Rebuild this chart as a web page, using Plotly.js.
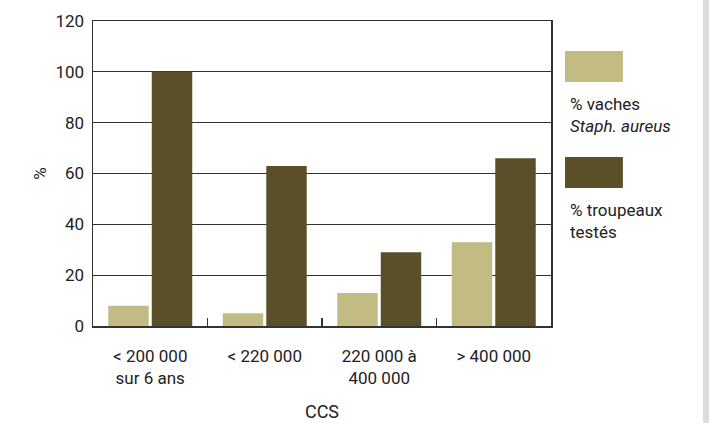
<!DOCTYPE html>
<html>
<head>
<meta charset="utf-8">
<script src="https://cdn.plot.ly/plotly-3.0.1.min.js"></script>
<style>
  html, body { margin: 0; padding: 0; background: #ffffff; }
  #chart { width: 709px; height: 423px; }
</style>
</head>
<body>
<div id="chart"></div>
<script>
// CCS classes on the x axis
const categories = ['< 200 000<br>sur 6 ans', '< 220 000', '220 000 à<br>400 000', '> 400 000'];
// % of cows with Staph. aureus
const vaches = [8, 5, 13, 33];
// % of herds tested
const troupeaux = [100, 63, 29, 66];
const yTicks = [0, 20, 40, 60, 80, 100, 120];

const FONT = '"Roboto", sans-serif';
const LIGHT = '#c2bb84';
const DARK = '#5a4f28';
const INK = '#222222';

const traces = [
  { type: 'bar', x: categories, y: vaches, name: '% vaches', marker: { color: LIGHT }, hoverinfo: 'x+y' },
  { type: 'bar', x: categories, y: troupeaux, name: '% troupeaux testés', marker: { color: DARK }, hoverinfo: 'x+y' }
];

const layout = {
  width: 709, height: 423,
  margin: { l: 93, r: 158, t: 21, b: 97 },
  paper_bgcolor: '#ffffff', plot_bgcolor: '#ffffff',
  showlegend: false,
  barmode: 'group', bargap: 0.24, bargroupgap: 0.07,
  font: { family: FONT, size: 17, color: INK },
  xaxis: {
    type: 'category',
    showline: true, linecolor: '#333', linewidth: 1.5, mirror: true,
    showgrid: false, zeroline: false,
    ticks: 'inside', tickson: 'boundaries', ticklen: 8, tickcolor: '#333', tickwidth: 1.5,
    ticklabelstandoff: 14,
    tickfont: { family: FONT, size: 17, color: INK },
    title: { text: 'CCS', font: { family: FONT, size: 18, color: INK }, standoff: 18 }
  },
  yaxis: {
    range: [0, 120], tickvals: yTicks, ticktext: yTicks.map(String),
    showline: true, linecolor: '#333', linewidth: 1.5, mirror: true,
    showgrid: true, gridcolor: '#333', gridwidth: 1,
    zeroline: false, ticks: '', ticklabelstandoff: 4,
    tickfont: { family: FONT, size: 17, color: INK },
    title: { text: '%', font: { family: FONT, size: 17, color: INK }, standoff: 4 }
  },
  shapes: [
    // legend swatches
    { type: 'rect', xref: 'paper', yref: 'paper', x0: 1.0306, x1: 1.157, y0: 0.800, y1: 0.9016, fillcolor: LIGHT, line: { width: 0 } },
    { type: 'rect', xref: 'paper', yref: 'paper', x0: 1.0306, x1: 1.157, y0: 0.4525, y1: 0.554, fillcolor: DARK, line: { width: 0 } },
    // grey page edge on the right
    { type: 'rect', xref: 'paper', yref: 'paper', x0: 1.332, x1: 1.36, y0: -0.35, y1: 1.1, fillcolor: '#dcdcdc', line: { width: 0 } }
  ],
  annotations: [
    { xref: 'paper', yref: 'paper', x: 1.037, y: 0.728, xanchor: 'left', yanchor: 'middle', showarrow: false,
      align: 'left', text: '% vaches', font: { family: FONT, size: 17, color: INK } },
    { xref: 'paper', yref: 'paper', x: 1.037, y: 0.656, xanchor: 'left', yanchor: 'middle', showarrow: false,
      align: 'left', text: '<i>Staph. aureus</i>', font: { family: FONT, size: 17, color: INK } },
    { xref: 'paper', yref: 'paper', x: 1.037, y: 0.380, xanchor: 'left', yanchor: 'middle', showarrow: false,
      align: 'left', text: '% troupeaux', font: { family: FONT, size: 17, color: INK } },
    { xref: 'paper', yref: 'paper', x: 1.037, y: 0.308, xanchor: 'left', yanchor: 'middle', showarrow: false,
      align: 'left', text: 'testés', font: { family: FONT, size: 17, color: INK } }
  ]
};

Plotly.newPlot('chart', traces, layout, { displayModeBar: false, staticPlot: true });
</script>
</body>
</html>
